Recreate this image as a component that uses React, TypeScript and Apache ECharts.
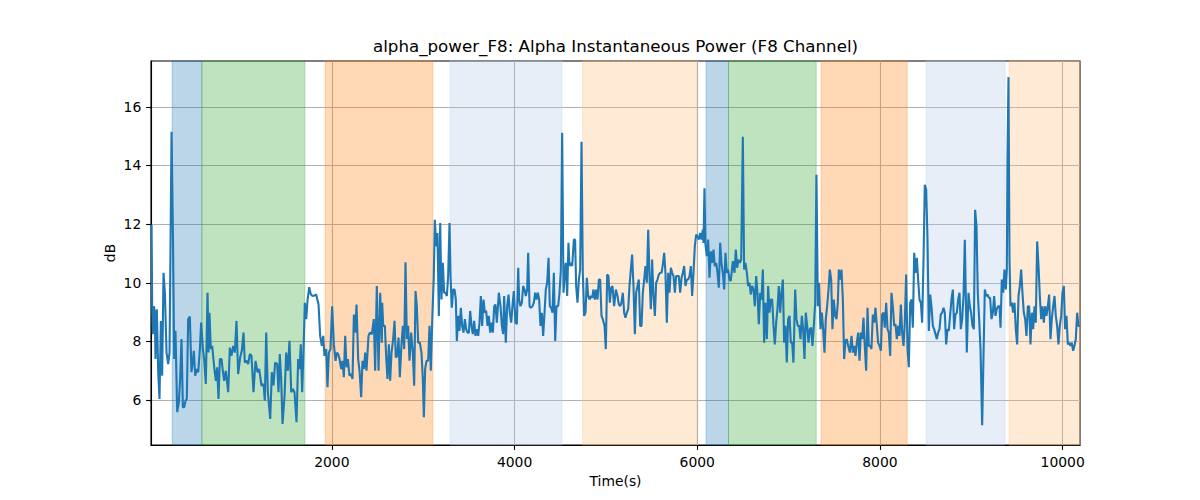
import React, { useEffect, useRef } from "react";
import * as echarts from "echarts";

const TITLE = "alpha_power_F8: Alpha Instantaneous Power (F8 Channel)";
const X_NAME = "Time(s)";
const Y_NAME = "dB";
const X_MIN = 20;
const X_MAX = 10190;
const Y_MIN = 4.47;
const Y_MAX = 17.56;
const X_TICKS = [2000, 4000, 6000, 8000, 10000];
const Y_TICKS = [6, 8, 10, 12, 14, 16];

// shaded phases
const spanStarts = [252, 577, 1927, 3295, 4744, 6097, 6342, 7356, 8506, 9414];
const spanEnds = [577, 1704, 3105, 4518, 5995, 6342, 7302, 8298, 9370, 10190];
const spanKinds = ["blue", "green", "orange", "lightblue", "lightorange", "blue", "green", "orange", "lightblue", "lightorange"];

// [time (s), dB]
const samples1 = [
  [26, 11.98], [33, 9.2], [40, 8.25], [51, 9.2], [62, 8.98], [69, 7.4], [84, 9.1], [99, 6.95], [113, 6.04], [128, 8.7],
  [142, 6.83], [157, 10.34], [172, 9.66], [190, 7.62], [208, 7.23], [223, 7.62], [245, 15.15], [259, 11.92], [274, 7.4], [288, 8.36],
  [307, 5.59], [325, 5.93], [339, 6.72], [354, 8.08], [369, 5.76], [383, 5.76], [398, 5.98], [412, 6.04], [427, 8.76], [445, 8.85],
  [463, 6.95], [478, 7.34], [489, 7.68], [504, 6.83], [522, 7.06], [537, 6.95], [555, 7.74], [569, 8.64], [588, 7.74], [602, 7.4],
  [620, 6.55], [639, 9.66], [650, 7.62], [660, 8.98], [675, 7.74], [690, 7.85], [712, 7.12], [730, 6.66], [744, 7.12], [759, 6.04],
  [774, 7.4], [792, 7.4], [806, 7.0], [821, 6.66], [839, 7.0], [865, 6.27], [883, 7.79], [901, 7.51], [920, 7.85], [938, 7.62],
  [956, 8.7], [974, 6.89], [996, 7.45], [1014, 7.68], [1033, 8.3], [1047, 7.28], [1066, 7.34], [1084, 7.23], [1102, 7.57], [1120, 7.51],
  [1142, 6.27], [1164, 7.34], [1186, 6.95], [1204, 7.06], [1230, 6.49], [1252, 6.55], [1266, 5.98],
];
const samples2 = [
  [1281, 8.3], [1299, 6.27], [1325, 5.36], [1343, 6.95], [1361, 6.5], [1379, 7.28], [1401, 7.23], [1416, 6.27], [1430, 7.57], [1445, 6.72],
  [1460, 5.19], [1482, 6.15], [1500, 7.62], [1518, 7.0], [1536, 8.02], [1555, 6.27], [1573, 6.38], [1591, 6.27], [1613, 5.25], [1631, 7.4],
  [1646, 7.06], [1660, 7.9], [1675, 6.27], [1690, 7.74], [1704, 9.32], [1719, 8.76], [1733, 9.38], [1752, 9.85], [1770, 9.6], [1788, 9.55],
  [1810, 9.57], [1828, 9.6], [1854, 9.26], [1872, 8.19], [1890, 7.85], [1905, 8.19], [1919, 7.51], [1938, 7.74], [1952, 6.44], [1967, 7.62],
  [1985, 7.74], [2003, 9.2], [2022, 7.9], [2040, 7.34], [2054, 7.62], [2069, 7.57], [2084, 7.4], [2102, 7.06], [2116, 7.34], [2131, 6.78],
  [2146, 8.19], [2160, 7.12], [2175, 7.4], [2193, 6.83], [2211, 6.89], [2226, 6.72], [2241, 8.92], [2255, 8.3], [2270, 9.26], [2288, 7.4],
  [2303, 7.0], [2321, 6.1], [2335, 7.34], [2350, 7.06], [2365, 7.62], [2379, 7.0], [2401, 8.19], [2416, 8.3], [2438, 8.25], [2459, 8.76],
  [2474, 7.0], [2492, 9.89], [2511, 7.0], [2529, 9.66], [2547, 7.96],
];
const samples3 = [
  [2551, 9.32], [2562, 8.53], [2580, 8.53], [2594, 7.51], [2609, 6.72], [2624, 7.9], [2638, 6.66], [2653, 7.62], [2671, 8.08], [2686, 8.7],
  [2700, 7.45], [2715, 7.51], [2730, 8.13], [2744, 6.78], [2762, 7.9], [2777, 8.53], [2792, 7.74], [2806, 10.7], [2821, 8.08], [2835, 8.53],
  [2850, 7.34], [2868, 8.3], [2886, 7.62], [2901, 6.49], [2916, 9.72], [2930, 9.2], [2945, 7.96], [2963, 7.96], [2981, 7.62], [2996, 6.72],
  [3007, 5.42], [3021, 7.06], [3036, 7.34], [3054, 7.34], [3069, 8.53], [3083, 7.0], [3098, 8.64], [3116, 10.23], [3127, 12.15], [3142, 11.24],
  [3156, 11.7], [3171, 8.87], [3186, 12.04], [3200, 9.43], [3215, 10.68], [3229, 9.66], [3244, 9.66], [3259, 9.55], [3273, 10.23], [3288, 12.04],
  [3299, 10.23], [3313, 9.15], [3328, 9.77], [3343, 9.77], [3357, 9.43], [3368, 8.02], [3383, 8.87], [3397, 8.36], [3412, 9.15], [3426, 8.53],
  [3441, 8.3], [3456, 8.76], [3470, 8.42], [3485, 8.3], [3500, 8.3], [3514, 9.04], [3529, 8.53], [3543, 8.25], [3558, 8.7], [3572, 8.19],
  [3587, 8.42], [3602, 8.19], [3616, 8.64], [3631, 9.55], [3645, 8.53], [3660, 9.43], [3675, 8.98], [3689, 9.04], [3704, 8.53], [3718, 8.87],
  [3733, 8.3], [3748, 8.64], [3762, 8.3], [3777, 9.2], [3791, 9.26], [3806, 8.64], [3828, 9.66],
];
const samples4 = [
  [3846, 9.2], [3861, 8.53], [3875, 8.25], [3886, 9.55], [3904, 7.96], [3919, 9.2], [3934, 9.6], [3948, 8.98], [3963, 8.64], [3977, 9.2],
  [3992, 9.72], [4010, 8.64], [4025, 8.59], [4040, 10.51], [4050, 9.43], [4065, 9.2], [4080, 9.32], [4094, 9.89], [4109, 9.77], [4123, 9.55],
  [4138, 9.77], [4149, 11.02], [4164, 9.2], [4178, 9.15], [4196, 9.2], [4211, 9.32], [4226, 9.66], [4240, 9.43], [4255, 9.66], [4269, 9.43],
  [4284, 8.53], [4299, 8.98], [4313, 8.19], [4328, 8.98], [4342, 9.77], [4357, 10.0], [4372, 10.85], [4386, 9.2], [4401, 9.15], [4415, 8.98],
  [4430, 10.34], [4445, 8.02], [4459, 9.2], [4477, 9.2], [4492, 9.66], [4507, 10.45], [4521, 15.11], [4536, 9.66], [4550, 10.34], [4561, 10.68],
  [4576, 9.55], [4590, 11.36], [4601, 10.57], [4616, 10.68], [4631, 10.57], [4649, 11.47], [4663, 11.47], [4674, 9.89], [4689, 9.32], [4704, 10.11],
  [4718, 10.45], [4733, 14.81], [4747, 10.34], [4762, 8.87], [4777, 8.98], [4791, 10.17], [4806, 9.55], [4820, 9.43], [4835, 9.55], [4850, 9.49],
  [4864, 9.77], [4879, 9.43], [4893, 9.77], [4908, 9.43], [4923, 10.11], [4937, 10.11], [4952, 8.87], [4966, 8.76], [4985, 8.53], [4999, 7.74],
  [5014, 10.28], [5028, 10.23], [5043, 9.32], [5058, 9.83], [5072, 9.89], [5090, 9.2], [5109, 9.77],
];
const samples5 = [
  [5127, 9.55], [5142, 9.26], [5156, 9.2], [5171, 9.32], [5185, 9.66], [5200, 8.98], [5214, 8.81], [5229, 8.98], [5244, 9.1], [5258, 9.89],
  [5273, 10.45], [5287, 10.96], [5302, 9.89], [5317, 8.25], [5331, 9.66], [5346, 9.89], [5360, 10.11], [5375, 8.53], [5390, 8.53], [5404, 9.66],
  [5419, 10.11], [5433, 10.57], [5448, 10.0], [5463, 11.81], [5477, 10.23], [5492, 9.1], [5506, 10.79], [5521, 9.55], [5536, 8.87], [5550, 10.0],
  [5565, 10.11], [5579, 10.28], [5594, 10.34], [5609, 10.34], [5623, 10.62], [5638, 11.02], [5652, 10.34], [5667, 8.64], [5682, 10.34], [5696, 9.66],
  [5711, 10.51], [5725, 10.34], [5740, 10.23], [5755, 9.66], [5769, 10.23], [5784, 10.23], [5798, 10.23], [5813, 9.66], [5828, 10.17], [5842, 10.34],
  [5857, 10.57], [5871, 9.89], [5886, 10.11], [5900, 10.11], [5915, 10.23], [5930, 10.57], [5944, 9.55], [5959, 10.34], [5973, 11.24], [5988, 11.64],
  [6003, 11.58], [6017, 11.47], [6032, 11.7], [6046, 11.47], [6061, 11.81], [6068, 11.36], [6079, 13.22], [6090, 11.3], [6105, 10.91], [6119, 11.47],
  [6134, 10.17], [6149, 11.07], [6163, 10.68], [6178, 11.13], [6192, 10.57], [6207, 10.68], [6222, 10.34], [6236, 9.83], [6251, 11.36], [6265, 10.68],
  [6280, 10.34], [6295, 9.77], [6309, 11.02], [6324, 10.34], [6338, 10.45], [6353, 10.11], [6367, 10.06], [6389, 10.74],
];
const samples6 = [
  [6408, 10.34], [6422, 11.13], [6437, 10.51], [6451, 10.79], [6466, 10.68], [6481, 10.79], [6499, 14.98], [6513, 10.45], [6528, 10.68], [6543, 10.34],
  [6557, 9.89], [6572, 10.0], [6586, 9.6], [6601, 9.89], [6616, 9.77], [6630, 9.2], [6645, 10.23], [6659, 9.66], [6674, 8.59], [6689, 9.66],
  [6703, 9.43], [6718, 10.45], [6732, 7.96], [6747, 9.32], [6762, 8.08], [6776, 9.89], [6791, 8.98], [6805, 9.43], [6820, 9.43], [6835, 8.53],
  [6849, 7.9], [6864, 8.64], [6878, 9.1], [6893, 9.89], [6908, 8.98], [6922, 9.66], [6937, 10.11], [6951, 7.96], [6966, 8.53], [6980, 7.28],
  [6995, 8.76], [7010, 8.87], [7024, 7.96], [7039, 7.96], [7053, 7.28], [7072, 9.77], [7086, 8.76], [7101, 8.53], [7116, 8.53], [7130, 8.08],
  [7145, 8.87], [7159, 8.42], [7174, 7.4], [7188, 8.98], [7203, 8.53], [7218, 7.96], [7232, 8.42], [7247, 8.47], [7261, 7.85], [7276, 8.53],
  [7291, 9.32], [7305, 13.68], [7320, 9.2], [7334, 10.0], [7349, 8.42], [7364, 8.98], [7378, 8.42], [7393, 7.62], [7407, 8.76], [7422, 9.2],
  [7437, 9.77], [7451, 10.45], [7466, 10.11], [7480, 8.42], [7495, 9.43], [7510, 8.87], [7524, 8.76], [7539, 9.32], [7550, 10.45], [7564, 10.11],
  [7579, 10.45], [7594, 9.43], [7608, 7.4], [7623, 8.02], [7637, 8.08], [7652, 7.85], [7670, 7.62],
];
const samples7 = [
  [7689, 8.19], [7703, 7.62], [7718, 7.85], [7732, 7.51], [7747, 7.96], [7762, 8.3], [7776, 7.34], [7791, 8.3], [7805, 8.08], [7820, 8.81],
  [7834, 7.85], [7849, 7.0], [7864, 9.15], [7878, 7.85], [7893, 7.85], [7907, 7.74], [7922, 8.92], [7937, 8.64], [7951, 9.15], [7966, 8.53],
  [7980, 7.96], [7995, 7.85], [8010, 7.68], [8024, 8.92], [8039, 8.98], [8053, 8.47], [8068, 9.32], [8083, 8.42], [8097, 8.3], [8112, 7.51],
  [8126, 9.66], [8141, 9.2], [8156, 8.53], [8170, 8.59], [8185, 8.08], [8199, 8.53], [8214, 8.19], [8229, 9.26], [8243, 8.3], [8258, 7.85],
  [8272, 8.64], [8287, 10.28], [8302, 7.74], [8316, 7.12], [8331, 9.32], [8345, 9.43], [8360, 8.47], [8375, 11.02], [8389, 10.34], [8404, 10.85],
  [8418, 10.11], [8433, 9.43], [8448, 9.32], [8462, 8.64], [8477, 10.79], [8491, 13.34], [8506, 13.17], [8520, 11.58], [8535, 8.36], [8550, 9.6],
  [8564, 9.2], [8579, 8.53], [8593, 8.42], [8608, 8.25], [8623, 8.08], [8637, 8.3], [8652, 8.42], [8666, 8.92], [8681, 8.98], [8696, 9.15],
  [8710, 8.98], [8725, 7.9], [8739, 8.42], [8754, 8.36], [8769, 8.92], [8783, 9.43], [8798, 9.77], [8812, 8.42], [8827, 8.92], [8842, 8.98],
  [8856, 9.43], [8871, 9.66], [8885, 8.42], [8900, 8.76], [8915, 9.55], [8929, 11.47], [8951, 7.62],
];
const samples8 = [
  [8969, 9.66], [8984, 9.2], [8998, 8.98], [9013, 8.53], [9028, 8.42], [9042, 12.49], [9057, 11.92], [9071, 9.66], [9086, 8.76], [9101, 7.74],
  [9119, 5.14], [9133, 7.4], [9148, 9.77], [9163, 9.55], [9177, 9.6], [9192, 9.49], [9206, 9.49], [9221, 8.76], [9236, 8.98], [9250, 9.55],
  [9265, 8.87], [9279, 9.1], [9294, 9.2], [9309, 9.2], [9320, 8.47], [9334, 10.11], [9349, 9.66], [9363, 10.45], [9378, 9.77], [9389, 10.45],
  [9396, 14.19], [9407, 17.01], [9418, 10.79], [9429, 9.2], [9444, 9.32], [9458, 8.98], [9473, 9.32], [9487, 8.42], [9502, 7.9], [9517, 9.55],
  [9531, 9.89], [9546, 10.45], [9560, 9.66], [9575, 8.98], [9590, 8.76], [9604, 8.19], [9619, 9.2], [9633, 9.2], [9648, 7.9], [9663, 8.98],
  [9677, 8.42], [9692, 9.2], [9706, 8.64], [9721, 11.41], [9736, 10.57], [9750, 9.55], [9765, 8.76], [9779, 9.2], [9794, 8.64], [9808, 9.2],
  [9823, 8.87], [9838, 9.2], [9852, 9.6], [9867, 8.08], [9881, 8.76], [9896, 9.2], [9911, 9.55], [9925, 8.87], [9940, 8.53], [9954, 7.9],
  [9969, 8.53], [9984, 8.87], [9998, 9.66], [10013, 9.89], [10027, 8.42], [10042, 8.87], [10057, 7.9], [10071, 7.96], [10086, 7.85], [10100, 7.96],
  [10115, 7.68], [10130, 7.85], [10144, 8.08], [10159, 8.98], [10173, 8.53], [10188, 8.53],
];

const FONT = "DejaVu Sans";
const kindColors: Record<string, string> = {
  blue: "rgba(31,119,180,0.3)",
  green: "rgba(44,160,44,0.3)",
  orange: "rgba(255,127,14,0.3)",
  lightblue: "rgba(174,199,232,0.3)",
  lightorange: "rgba(255,187,120,0.3)",
};

export default function App() {
  const ref = useRef<HTMLDivElement>(null);
  useEffect(() => {
    if (!ref.current) return;
    const chart = echarts.init(ref.current, undefined, { renderer: "svg" });
    const data = [
      ...samples1, ...samples2, ...samples3, ...samples4,
      ...samples5, ...samples6, ...samples7, ...samples8,
    ];
    const areas = spanStarts.map((s, i) => [
      {
        xAxis: s,
        itemStyle: {
          color: kindColors[spanKinds[i]],
          borderColor: kindColors[spanKinds[i]],
          borderWidth: 1,
        },
      },
      { xAxis: spanEnds[i] },
    ]);
    chart.setOption({
      animation: false,
      backgroundColor: "#ffffff",
      grid: {
        left: 151,
        top: 61,
        width: 929,
        height: 384,
        show: true,
        borderColor: "#000000",
        borderWidth: 1.1,
        backgroundColor: "transparent",
        containLabel: false,
      },
      xAxis: {
        type: "value",
        min: X_MIN,
        max: X_MAX,
        splitNumber: 5,
        axisLine: { show: true, lineStyle: { color: "#000", width: 1.1 } },
        axisTick: {
          show: true,
          length: 4.9,
          lineStyle: { color: "#000", width: 1.1 },
          customValues: X_TICKS,
        },
        axisLabel: {
          customValues: X_TICKS,
          formatter: (v: number) => String(v),
          color: "#000",
          fontSize: 13.9,
          fontFamily: FONT,
          margin: 9.7,
        },
        splitLine: { show: true, lineStyle: { color: "#b0b0b0", width: 1.1 } },
      },
      yAxis: {
        type: "value",
        min: Y_MIN,
        max: Y_MAX,
        splitNumber: 6,
        axisLine: { show: true, lineStyle: { color: "#000", width: 1.1 } },
        axisTick: {
          show: true,
          length: 4.9,
          lineStyle: { color: "#000", width: 1.1 },
          customValues: Y_TICKS,
        },
        axisLabel: {
          customValues: Y_TICKS,
          formatter: (v: number) => String(v),
          color: "#000",
          fontSize: 13.9,
          fontFamily: FONT,
          margin: 9.7,
        },
        splitLine: { show: true, lineStyle: { color: "#b0b0b0", width: 1.1 } },
      },
      graphic: [
        {
          type: "text",
          x: 615.5,
          y: 46,
          style: {
            text: TITLE,
            fill: "#000",
            fontSize: 16.7,
            fontFamily: FONT,
            align: "center",
            verticalAlign: "middle",
          },
        },
        {
          type: "text",
          x: 615.5,
          y: 481,
          style: {
            text: X_NAME,
            fill: "#000",
            fontSize: 13.9,
            fontFamily: FONT,
            align: "center",
            verticalAlign: "middle",
          },
        },
        {
          type: "text",
          x: 110,
          y: 253,
          rotation: Math.PI / 2,
          style: {
            text: Y_NAME,
            fill: "#000",
            fontSize: 13.9,
            fontFamily: FONT,
            align: "center",
            verticalAlign: "middle",
          },
        },
      ],
      series: [
        {
          type: "line",
          data,
          showSymbol: false,
          symbol: "none",
          clip: true,
          z: 3,
          lineStyle: { color: "#1f77b4", width: 2.1 },
          markArea: {
            silent: true,
            label: { show: false },
            data: areas,
          },
        },
      ],
    });
    return () => chart.dispose();
  }, []);
  return (
    <div
      ref={ref}
      style={{ position: "absolute", left: 0, top: 0, width: 1200, height: 500 }}
    />
  );
}
